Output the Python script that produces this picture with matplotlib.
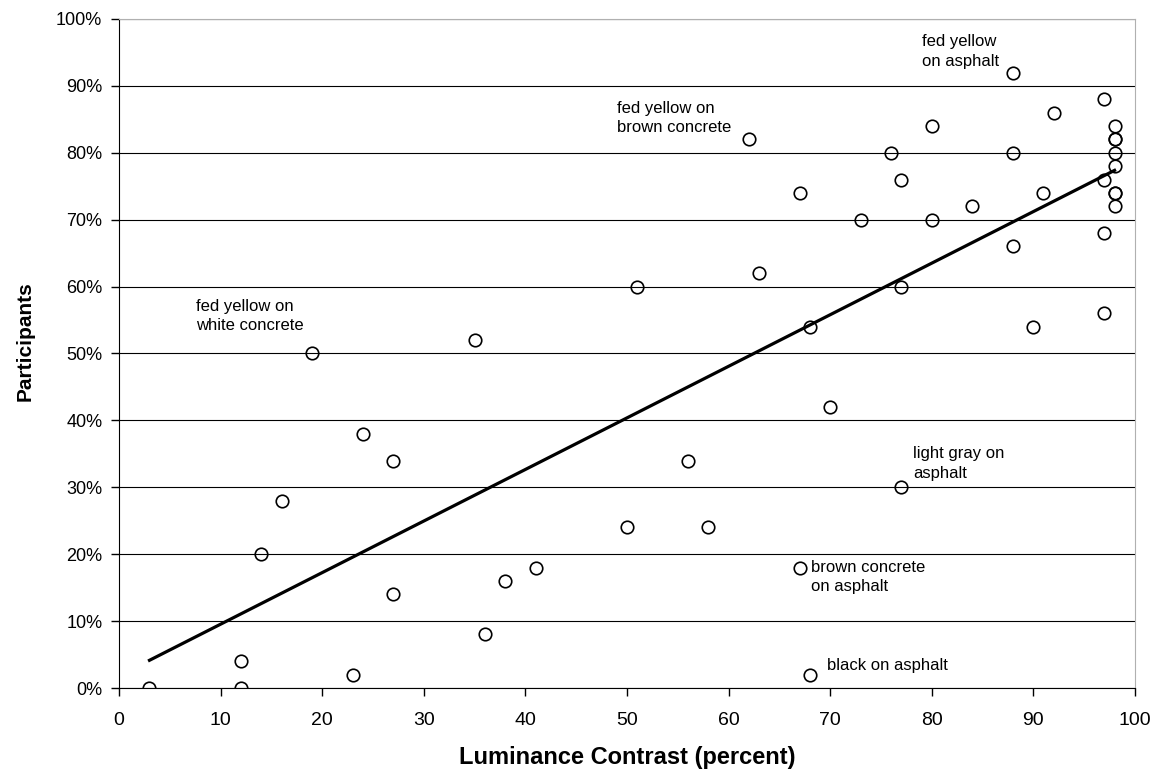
import matplotlib
matplotlib.use("Agg")
import matplotlib.pyplot as plt
from matplotlib.ticker import FuncFormatter
import numpy as np

plt.rcParams['font.family'] = ['Liberation Sans', 'DejaVu Sans']

# luminance contrast (%) and share of participants (%)
contrast = [3, 12, 12, 14, 16, 19, 23, 24, 27, 27, 35, 36, 38, 41, 50, 51, 56, 58,
            62, 63, 67, 67, 68, 68, 70, 73, 76, 77, 77, 77, 80, 80, 84, 88, 88, 88,
            90, 91, 92, 97, 97, 97, 97, 98, 98, 98, 98, 98, 98, 98, 98]
participants = [0, 4, 0, 20, 28, 50, 2, 38, 34, 14, 52, 8, 16, 18, 24, 60, 34, 24,
                82, 62, 74, 18, 54, 2, 42, 70, 80, 76, 60, 30, 84, 70, 72, 92, 80, 66,
                54, 74, 86, 88, 76, 68, 56, 84, 82, 82, 80, 78, 74, 74, 72]

labels = ["fed yellow\non asphalt", "fed yellow on\nbrown concrete",
          "fed yellow on\nwhite concrete", "light gray on\nasphalt",
          "brown concrete\non asphalt", "black on asphalt"]
label_x = [79.0, 49.0, 7.6, 78.2, 68.1, 69.7]
label_y = [95.2, 85.2, 55.6, 33.5, 16.6, 3.4]

fig = plt.figure(figsize=(11.61, 7.72), dpi=100)
ax = fig.add_axes([0.1025, 0.1088, 0.875, 0.8666])

ax.set_xlim(0, 100)
ax.set_ylim(0, 100)
ax.set_xticks(range(0, 101, 10))
ax.set_yticks(range(0, 101, 10))
ax.yaxis.set_major_formatter(FuncFormatter(lambda v, p: f"{int(v)}%"))
ax.grid(axis='y', color='black', linewidth=0.8)
ax.set_axisbelow(True)

# linear trend line
x = np.array(contrast)
y = np.array(participants)
k, b = np.polyfit(x, y, 1)
xs = np.array([x.min(), x.max()])
ax.plot(xs, k * xs + b, color='black', linewidth=2.3, zorder=3)

ax.plot(contrast, participants, 'o', markerfacecolor='none', markeredgecolor='black',
        markersize=9, markeredgewidth=1.2, zorder=4)

for t, tx, ty in zip(labels, label_x, label_y):
    ax.text(tx, ty, t, fontsize=12, ha='left', va='center', linespacing=1.4)

for s in ['top', 'right']:
    ax.spines[s].set_color('#b0b0b0')
ax.tick_params(direction='out', length=6, width=1)
ax.tick_params(axis='x', labelsize=14, pad=11)
ax.tick_params(axis='y', labelsize=13, pad=6)

ax.set_xlabel("Luminance Contrast (percent)", fontsize=17, fontweight='bold')
ax.set_ylabel("Participants", fontsize=15, fontweight='bold')
ax.xaxis.set_label_coords(0.5, -0.086)
ax.yaxis.set_label_coords(-0.083, 0.519)

fig.savefig("out.png", dpi=100)
